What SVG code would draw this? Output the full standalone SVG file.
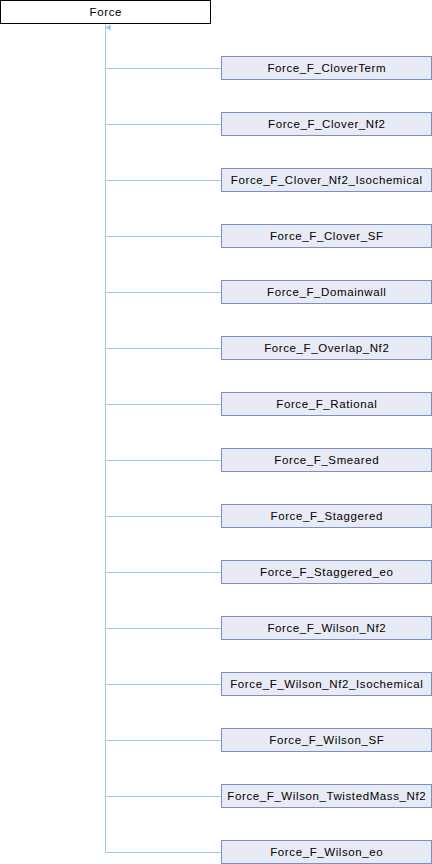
<svg xmlns="http://www.w3.org/2000/svg" width="432" height="864" viewBox="0 0 432 864">
<style>
.b{fill:#E8EBF5;stroke:#7890C8;stroke-width:1}
.r{fill:#FFFFFF;stroke:#000000;stroke-width:1}
.t{font-family:"Liberation Sans",Arial,sans-serif;font-size:11.5px;letter-spacing:0.6px;fill:#000000;text-anchor:middle}
.e{fill:none;stroke:#9ACBE6;stroke-width:1}
</style>
<defs>
<marker id="a" markerWidth="6" markerHeight="6" refX="3" refY="0" orient="auto" markerUnits="userSpaceOnUse" viewBox="-3 0 6 6">
<path d="M0,0 L2.5,5 L-2.5,5 Z" fill="#9ACBE6" stroke="#9ACBE6" stroke-width="0.5"/>
</marker>
</defs>
<g id="edges">
<path class="e" d="M105.5,852.5 V24.5" marker-end="url(#a)"/>
<path class="e" d="M105.5,68.5 H221"/>
<path class="e" d="M105.5,124.5 H221"/>
<path class="e" d="M105.5,180.5 H221"/>
<path class="e" d="M105.5,236.5 H221"/>
<path class="e" d="M105.5,292.5 H221"/>
<path class="e" d="M105.5,348.5 H221"/>
<path class="e" d="M105.5,404.5 H221"/>
<path class="e" d="M105.5,460.5 H221"/>
<path class="e" d="M105.5,516.5 H221"/>
<path class="e" d="M105.5,572.5 H221"/>
<path class="e" d="M105.5,628.5 H221"/>
<path class="e" d="M105.5,684.5 H221"/>
<path class="e" d="M105.5,740.5 H221"/>
<path class="e" d="M105.5,796.5 H221"/>
<path class="e" d="M105.5,852.5 H221"/>
</g>
<g id="n0"><rect class="r" x="0.5" y="0.5" width="210" height="23"/><text class="t" x="105.8" y="16">Force</text></g>
<g id="n1"><rect class="b" x="221.5" y="56.5" width="210" height="23"/><text class="t" x="326.8" y="72">Force_F_CloverTerm</text></g>
<g id="n2"><rect class="b" x="221.5" y="112.5" width="210" height="23"/><text class="t" x="326.8" y="128">Force_F_Clover_Nf2</text></g>
<g id="n3"><rect class="b" x="221.5" y="168.5" width="210" height="23"/><text class="t" x="326.8" y="184">Force_F_Clover_Nf2_Isochemical</text></g>
<g id="n4"><rect class="b" x="221.5" y="224.5" width="210" height="23"/><text class="t" x="326.8" y="240">Force_F_Clover_SF</text></g>
<g id="n5"><rect class="b" x="221.5" y="280.5" width="210" height="23"/><text class="t" x="326.8" y="296">Force_F_Domainwall</text></g>
<g id="n6"><rect class="b" x="221.5" y="336.5" width="210" height="23"/><text class="t" x="326.8" y="352">Force_F_Overlap_Nf2</text></g>
<g id="n7"><rect class="b" x="221.5" y="392.5" width="210" height="23"/><text class="t" x="326.8" y="408">Force_F_Rational</text></g>
<g id="n8"><rect class="b" x="221.5" y="448.5" width="210" height="23"/><text class="t" x="326.8" y="464">Force_F_Smeared</text></g>
<g id="n9"><rect class="b" x="221.5" y="504.5" width="210" height="23"/><text class="t" x="326.8" y="520">Force_F_Staggered</text></g>
<g id="n10"><rect class="b" x="221.5" y="560.5" width="210" height="23"/><text class="t" x="326.8" y="576">Force_F_Staggered_eo</text></g>
<g id="n11"><rect class="b" x="221.5" y="616.5" width="210" height="23"/><text class="t" x="326.8" y="632">Force_F_Wilson_Nf2</text></g>
<g id="n12"><rect class="b" x="221.5" y="672.5" width="210" height="23"/><text class="t" x="326.8" y="688">Force_F_Wilson_Nf2_Isochemical</text></g>
<g id="n13"><rect class="b" x="221.5" y="728.5" width="210" height="23"/><text class="t" x="326.8" y="744">Force_F_Wilson_SF</text></g>
<g id="n14"><rect class="b" x="221.5" y="784.5" width="210" height="23"/><text class="t" x="326.8" y="800">Force_F_Wilson_TwistedMass_Nf2</text></g>
<g id="n15"><rect class="b" x="221.5" y="840.5" width="210" height="23"/><text class="t" x="326.8" y="856">Force_F_Wilson_eo</text></g>
</svg>
